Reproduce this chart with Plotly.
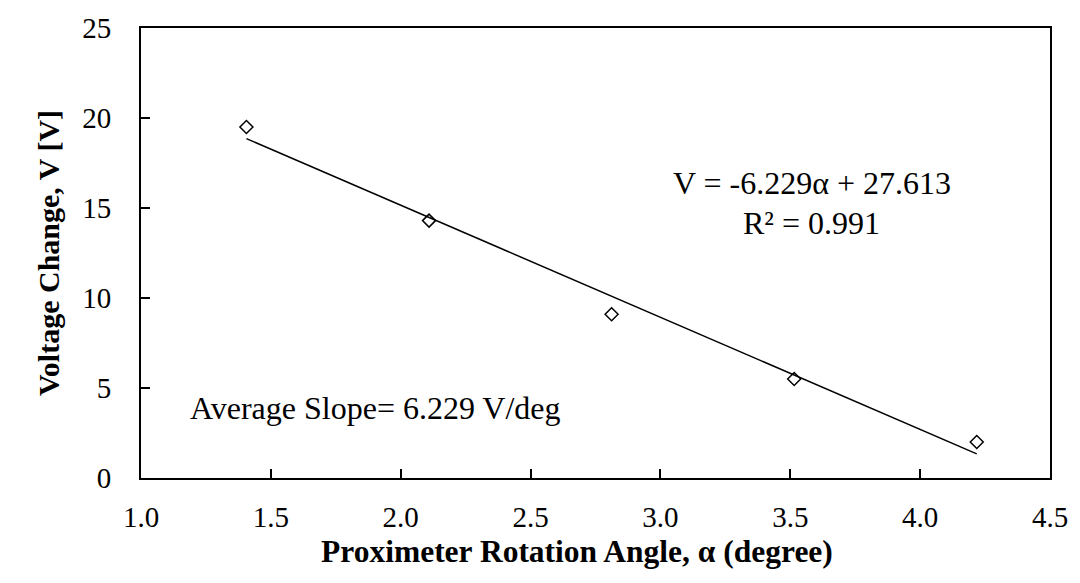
import plotly.graph_objects as go

# Measured rotation angles (degree) and voltage change (V)
angle_deg = [1.406, 2.109, 2.812, 3.515, 4.218]
voltage_v = [19.5, 14.3, 9.1, 5.5, 2.0]

# Linear fit coefficients, V = slope * alpha + intercept
fit_slope = -6.229
fit_intercept = 27.613
fit_r2 = 0.991

x_ticks = [1.0, 1.5, 2.0, 2.5, 3.0, 3.5, 4.0, 4.5]
y_ticks = [0, 5, 10, 15, 20, 25]

SERIF = "Liberation Serif"

fit_x = [min(angle_deg), max(angle_deg)]
fit_y = [fit_slope * a + fit_intercept for a in fit_x]

fig = go.Figure()
fig.add_trace(go.Scatter(
    x=fit_x, y=fit_y, mode="lines",
    line=dict(color="black", width=1.5),
    showlegend=False, hoverinfo="skip",
))
fig.add_trace(go.Scatter(
    x=angle_deg, y=voltage_v, mode="markers",
    marker=dict(symbol="diamond-open", size=10, color="black",
                line=dict(color="black", width=1.5)),
    showlegend=False,
))

fig.add_annotation(
    x=0.738, y=0.656, xref="paper", yref="paper",
    text=f"V = {fit_slope:.3f}α + {fit_intercept:.3f}",
    showarrow=False, xanchor="center", yanchor="middle",
    font=dict(family=SERIF, size=32, color="black"),
)
fig.add_annotation(
    x=0.738, y=0.566, xref="paper", yref="paper",
    text=f"R² = {fit_r2:.3f}",
    showarrow=False, xanchor="center", yanchor="middle",
    font=dict(family=SERIF, size=32, color="black"),
)
fig.add_annotation(
    x=0.052, y=0.155, xref="paper", yref="paper",
    text=f"Average Slope= {abs(fit_slope):.3f} V/deg",
    showarrow=False, xanchor="left", yanchor="middle",
    font=dict(family=SERIF, size=32, color="black"),
)

# x-axis title, placed slightly left of the plot centre
fig.add_annotation(
    x=0.48, y=-0.164, xref="paper", yref="paper",
    text="<b>Proximeter Rotation Angle, α (degree)</b>",
    showarrow=False, xanchor="center", yanchor="middle",
    font=dict(family=SERIF, size=31.5, color="black"),
)

axis_common = dict(
    showgrid=False, zeroline=False,
    showline=True, linecolor="black", linewidth=2, mirror=True,
    ticks="inside", ticklen=9, tickwidth=1.5, tickcolor="black",
    tickfont=dict(family=SERIF, size=29, color="black"),
)

fig.update_xaxes(
    range=[1.0, 4.5], tickvals=x_ticks,
    ticktext=[f"{v:.1f}" for v in x_ticks],
    ticklabelstandoff=12,
    **axis_common,
)
fig.update_yaxes(
    range=[0, 25], tickvals=y_ticks,
    ticktext=[str(v) for v in y_ticks],
    title=dict(text="<b>Voltage Change, V [V]</b>",
               font=dict(family=SERIF, size=30, color="black"), standoff=14),
    ticklabelstandoff=22,
    **axis_common,
)

fig.update_layout(
    width=1080, height=583,
    margin=dict(l=141, r=23, t=24, b=105),
    paper_bgcolor="white", plot_bgcolor="white",
    font=dict(family=SERIF, color="black"),
)

fig.write_html("out.html")
